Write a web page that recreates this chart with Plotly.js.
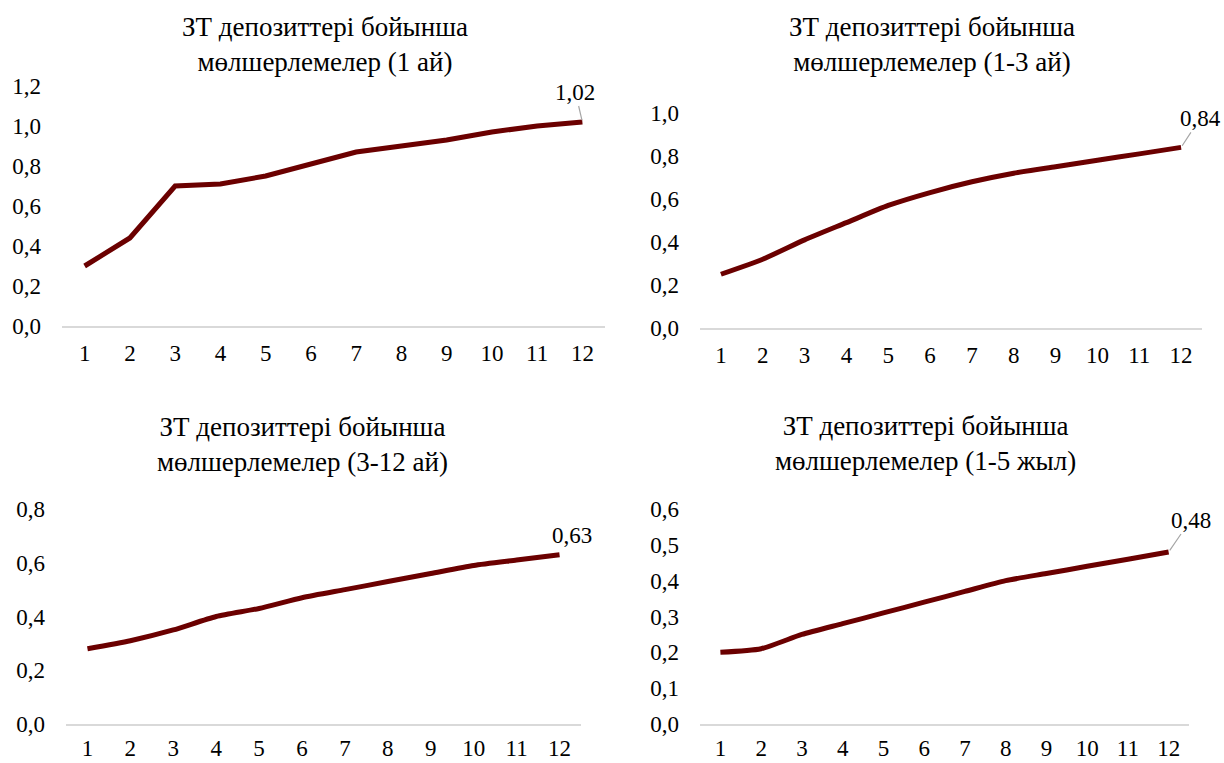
<!DOCTYPE html>
<html>
<head>
<meta charset="utf-8">
<script src="https://cdn.plot.ly/plotly-3.0.1.min.js"></script>
<style>
  html, body { margin: 0; padding: 0; background: #fff; }
  #chart { width: 1224px; height: 763px; }
</style>
</head>
<body>
<div id="chart"></div>
<script>
// Months on the horizontal axis
const months = [1, 2, 3, 4, 5, 6, 7, 8, 9, 10, 11, 12];

// Rates by deposit term
const rate1m    = [0.30, 0.44, 0.70, 0.71, 0.75, 0.81, 0.87, 0.90, 0.93, 0.97, 1.00, 1.02];
const rate1to3m = [0.25, 0.32, 0.41, 0.49, 0.57, 0.63, 0.68, 0.72, 0.75, 0.78, 0.81, 0.84];
const rate3to12m = [0.28, 0.31, 0.35, 0.40, 0.43, 0.47, 0.50, 0.53, 0.56, 0.59, 0.61, 0.63];
const rate1to5y = [0.20, 0.21, 0.25, 0.28, 0.31, 0.34, 0.37, 0.40, 0.42, 0.44, 0.46, 0.48];

// Panel titles
const titles = [
  'ЗТ депозиттері бойынша<br>мөлшерлемелер (1 ай)',
  'ЗТ депозиттері бойынша<br>мөлшерлемелер (1-3 ай)',
  'ЗТ депозиттері бойынша<br>мөлшерлемелер (3-12 ай)',
  'ЗТ депозиттері бойынша<br>мөлшерлемелер (1-5 жыл)'
];

const W = 1224, H = 763;
const FONT = '"Liberation Serif", "Times New Roman", Times, serif';
const LINE_COLOR = '#6b0000';
const TICK_SIZE = 23;
const TITLE_SIZE = 27;

// Pixel boxes of each plot area: [left, right, top(y of max), bottom(y of 0)]
const panels = [
  { y: rate1m,     box: [62, 605, 86, 326],  ymax: 1.2, dtick: 0.2, shape: 'linear', xoff: 6, title: [325, 45], lbl: [-7, -30, true] },
  { y: rate1to3m,  box: [700, 1202, 113, 328], ymax: 1.0, dtick: 0.2, shape: 'spline', xoff: 6, title: [932, 45], lbl: [19, -29, true] },
  { y: rate3to12m, box: [66, 581, 509, 724], ymax: 0.8, dtick: 0.2, shape: 'spline', xoff: 3, title: [302, 445], lbl: [12, -19, false] },
  { y: rate1to5y,  box: [700, 1189, 509, 724], ymax: 0.6, dtick: 0.1, shape: 'spline', xoff: 3, title: [925, 443], lbl: [22, -32, true] }
];

const data = [];
const layout = {
  width: W, height: H,
  margin: { l: 0, r: 0, t: 0, b: 0 },
  paper_bgcolor: '#fff', plot_bgcolor: '#fff',
  showlegend: false,
  separators: ', ',
  font: { family: FONT, size: TICK_SIZE, color: '#000' },
  annotations: []
};

panels.forEach((p, i) => {
  const n = i + 1;
  const xa = n === 1 ? 'x' : 'x' + n;
  const ya = n === 1 ? 'y' : 'y' + n;
  const [l, r, t, b] = p.box;

  data.push({
    type: 'scatter', mode: 'lines',
    x: months, y: p.y,
    xaxis: xa, yaxis: ya,
    line: { color: LINE_COLOR, width: 5, shape: p.shape, smoothing: 0.6 },
    cliponaxis: false,
    hoverinfo: 'x+y'
  });

  layout['xaxis' + (n === 1 ? '' : n)] = {
    domain: [l / W, r / W],
    anchor: ya,
    range: [0.5, 12.5],
    tickmode: 'array', tickvals: months, ticktext: months.map(String),
    showgrid: false, zeroline: false,
    showline: true, linecolor: '#d9d9d9', linewidth: 1.5,
    ticks: '', ticklabelstandoff: p.xoff,
    tickfont: { family: FONT, size: TICK_SIZE, color: '#000' },
    fixedrange: true
  };
  layout['yaxis' + (n === 1 ? '' : n)] = {
    domain: [(H - b) / H, (H - t) / H],
    anchor: xa,
    range: [0, p.ymax],
    dtick: p.dtick, tick0: 0,
    tickformat: '.1f',
    showgrid: false, zeroline: false, showline: false,
    ticks: '', ticklabelstandoff: 20,
    tickfont: { family: FONT, size: TICK_SIZE, color: '#000' },
    fixedrange: true
  };

  // Panel title
  layout.annotations.push({
    xref: 'paper', yref: 'paper',
    x: p.title[0] / W, y: (H - p.title[1]) / H,
    xanchor: 'center', yanchor: 'middle',
    text: titles[i], showarrow: false,
    font: { family: FONT, size: TITLE_SIZE, color: '#000' }
  });

  // Value label on the last point
  const last = p.y.length - 1;
  const [ax, ay, arrow] = p.lbl;
  layout.annotations.push({
    xref: xa, yref: ya,
    x: months[last], y: p.y[last],
    text: p.y[last].toFixed(2).replace('.', ','),
    showarrow: true, arrowhead: 0, arrowwidth: 1.2,
    arrowcolor: arrow ? '#a6a6a6' : 'rgba(0,0,0,0)',
    ax: ax, ay: ay, standoff: 2,
    font: { family: FONT, size: TICK_SIZE, color: '#000' }
  });
});

Plotly.newPlot('chart', data, layout, { displayModeBar: false, staticPlot: true });
</script>
</body>
</html>
